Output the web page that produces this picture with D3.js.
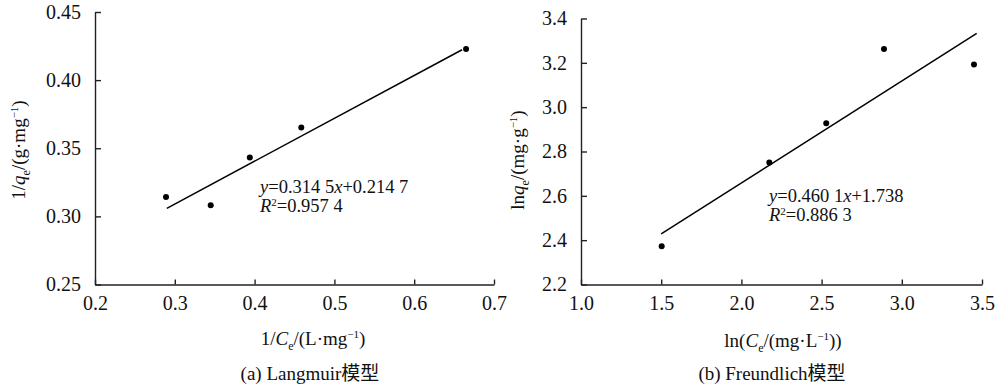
<!DOCTYPE html>
<html><head><meta charset="utf-8">
<script src="https://cdn.jsdelivr.net/npm/d3@7"></script>
<style>
html,body{margin:0;padding:0;background:#fff;}
svg text{font-family:"Liberation Serif","Tinos","Times New Roman","DejaVu Serif","Noto Sans CJK SC",serif !important;fill:#111;}
</style></head>
<body>
<svg id="c" width="1000" height="391"></svg>
<script>
// Panel (a) Langmuir
const langX = [0.289, 0.345, 0.394, 0.4585, 0.665];
const langY = [0.3142, 0.3081, 0.3433, 0.3652, 0.4229];
const langFit = {slope: 0.3145, intercept: 0.2147, x0: 0.29, x1: 0.66};
const langXTicks = [0.2, 0.3, 0.4, 0.5, 0.6, 0.7];
const langYTicks = [0.25, 0.30, 0.35, 0.40, 0.45];
// Panel (b) Freundlich
const freX = [1.503, 2.174, 2.529, 2.889, 3.450];
const freY = [2.373, 2.750, 2.928, 3.262, 3.1925];
const freFit = {slope: 0.4601, intercept: 1.738, x0: 1.5, x1: 3.467};
const freXTicks = [1.0, 1.5, 2.0, 2.5, 3.0, 3.5];
const freYTicks = [2.2, 2.4, 2.6, 2.8, 3.0, 3.2, 3.4];

const svg = d3.select("#c");
const FS = 19;
const TFS = 20;
const FONT = '"Liberation Serif","Tinos","Times New Roman","DejaVu Serif","Noto Sans CJK SC",serif';

function panel(cfg){
  const g = svg.append("g");
  const x = d3.scaleLinear().domain(cfg.xd).range([cfg.left, cfg.right]);
  const y = d3.scaleLinear().domain(cfg.yd).range([cfg.bottom, cfg.top]);
  const xa = g.append("g").attr("transform", `translate(0,${cfg.bottom})`)
    .call(d3.axisBottom(x).tickValues(cfg.xt).tickSizeInner(-5).tickSizeOuter(0).tickPadding(11).tickFormat(cfg.xf));
  const ya = g.append("g").attr("transform", `translate(${cfg.left},0)`)
    .call(d3.axisLeft(y).tickValues(cfg.yt).tickSizeInner(-6).tickSizeOuter(0).tickPadding(14).tickFormat(cfg.yf));
  [xa, ya].forEach(a => {
    a.attr("font-family", FONT);
    a.select(".domain").attr("stroke", "#222").attr("stroke-width", 1.4);
    a.selectAll(".tick line").attr("stroke", "#222").attr("stroke-width", 1.4);
    a.selectAll(".tick text").attr("font-size", TFS).attr("fill", "#111");
  });
  xa.selectAll(".tick text").attr("dy", "0.71em");
  const f = cfg.fit;
  g.append("line")
    .attr("x1", x(f.x0)).attr("y1", y(f.slope*f.x0 + f.intercept))
    .attr("x2", x(f.x1)).attr("y2", y(f.slope*f.x1 + f.intercept))
    .attr("stroke", "#000").attr("stroke-width", 1.5);
  g.selectAll("circle.p").data(cfg.px.map((v,i)=>[v, cfg.py[i]])).enter()
    .append("circle").attr("cx", d=>x(d[0])).attr("cy", d=>y(d[1])).attr("r", 3).attr("fill", "#000");
  const EF = 18.5;
  const eq = g.append("text").attr("x", cfg.eqX).attr("y", cfg.eqY).attr("font-size", EF);
  cfg.eq1.forEach(s => eq.append("tspan").attr("font-style", s[1] ? "italic" : "normal").text(s[0]));
  const r2 = g.append("text").attr("x", cfg.eqX).attr("y", cfg.eqY + 19).attr("font-size", EF);
  r2.append("tspan").attr("font-style", "italic").text("R");
  r2.append("tspan").attr("font-size", 11).attr("dy", -6).text("2");
  r2.append("tspan").attr("dy", 6).text("=" + cfg.r2);
  return {g, x, y};
}

panel({
  xd:[0.2,0.7], yd:[0.25,0.45], left:95, right:494, top:12, bottom:284.5,
  xt:langXTicks, yt:langYTicks, xf:d3.format(".1f"), yf:d3.format(".2f"),
  fit:langFit, px:langX, py:langY,
  eqX:260, eqY:193, eq1:[["y",1],["=0.314 5",0],["x",1],["+0.214 7",0]], r2:"0.957 4"
});
panel({
  xd:[1.0,3.5], yd:[2.2,3.4], left:581, right:982, top:18.5, bottom:284.5,
  xt:freXTicks, yt:freYTicks, xf:d3.format(".1f"), yf:d3.format(".1f"),
  fit:freFit, px:freX, py:freY,
  eqX:769, eqY:202, eq1:[["y",1],["=0.460 1",0],["x",1],["+1.738",0]], r2:"0.886 3"
});

function title(x, y, rot, parts){
  const t = svg.append("text").attr("font-size", FS).attr("text-anchor", "middle")
    .attr("transform", `translate(${x},${y}) rotate(${rot})`);
  parts.forEach(p => {
    const s = t.append("tspan").text(p.t);
    if (p.i) s.attr("font-style", "italic");
    if (p.dy) s.attr("dy", p.dy);
    if (p.fs) s.attr("font-size", p.fs);
  });
  return t;
}
title(313, 345, 0, [
  {t:"1/"},{t:"C",i:1},{t:"e",fs:12,dy:5},{t:"/(L·mg",dy:-5},{t:"−1",fs:11,dy:-7},{t:")",dy:7}
]);
title(25, 150, -90, [
  {t:"1/"},{t:"q",i:1},{t:"e",fs:12,dy:5},{t:"/(g·mg",dy:-5},{t:"−1",fs:11,dy:-7},{t:")",dy:7}
]);
title(783, 347, 0, [
  {t:"ln("},{t:"C",i:1},{t:"e",fs:12,dy:5},{t:"/(mg·L",dy:-5},{t:"−1",fs:11,dy:-7},{t:"))",dy:7}
]);
title(524, 160, -90, [
  {t:"ln"},{t:"q",i:1},{t:"e",fs:12,dy:5},{t:"/(mg·g",dy:-5},{t:"−1",fs:11,dy:-7},{t:")",dy:7}
]);
svg.append("text").attr("x", 310).attr("y", 380).attr("text-anchor","middle").attr("font-size", FS)
  .text("(a) Langmuir模型");
svg.append("text").attr("x", 772).attr("y", 380).attr("text-anchor","middle").attr("font-size", FS)
  .text("(b) Freundlich模型");
</script>
</body></html>
